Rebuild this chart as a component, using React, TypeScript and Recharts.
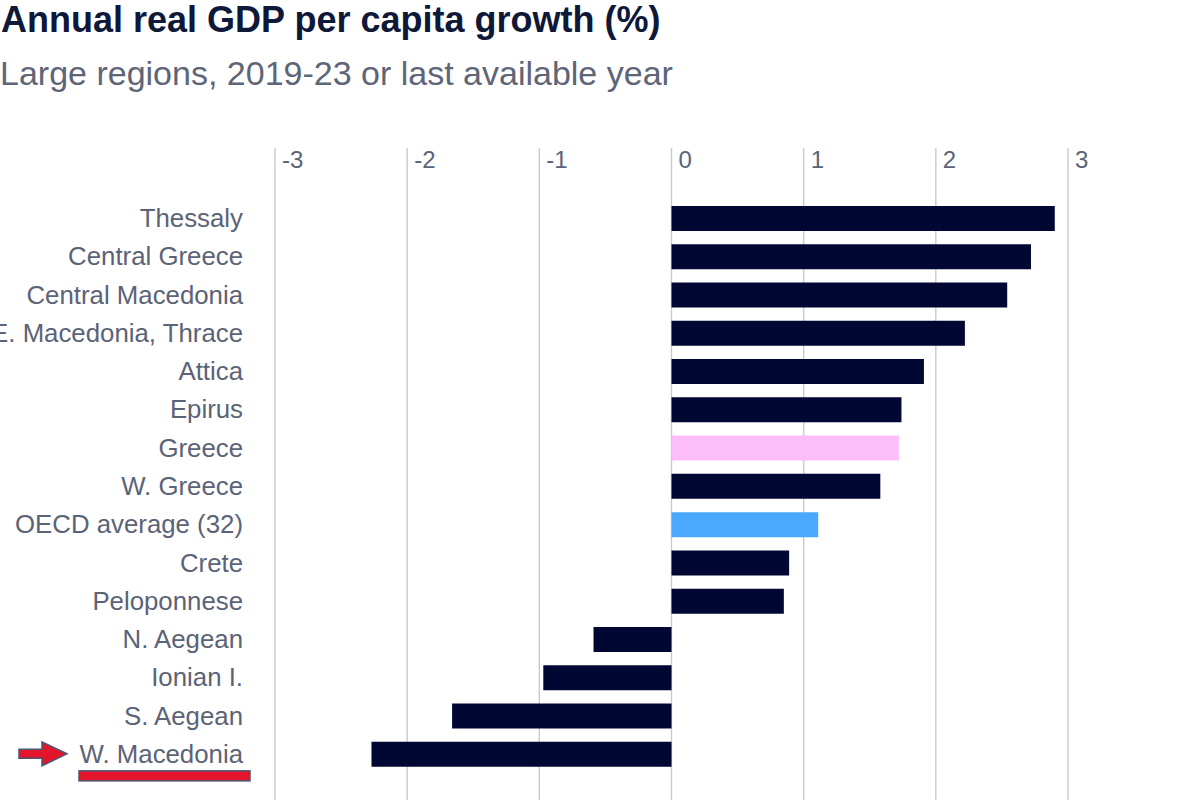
import { BarChart, Bar, XAxis, YAxis, CartesianGrid, Cell } from "recharts";

const regions = [
  "Thessaly",
  "Central Greece",
  "Central Macedonia",
  "E. Macedonia, Thrace",
  "Attica",
  "Epirus",
  "Greece",
  "W. Greece",
  "OECD average (32)",
  "Crete",
  "Peloponnese",
  "N. Aegean",
  "Ionian I.",
  "S. Aegean",
  "W. Macedonia",
];

const growth = [2.9, 2.72, 2.54, 2.22, 1.91, 1.74, 1.72, 1.58, 1.11, 0.89, 0.85, -0.59, -0.97, -1.66, -2.27];

const xTicks = [-3, -2, -1, 0, 1, 2, 3];

const data = regions.map((name, i) => ({ name, value: growth[i] }));

const barColor = (name: string) => {
  if (name === "Greece") return "#FDBDF9";
  if (name.startsWith("OECD")) return "#4BA8FF";
  return "#000733";
};

const PLOT_TOP = 148;
const PLOT_LEFT = 275;
const X_AXIS_H = 30;
const FONT = "'Liberation Sans', Arial, sans-serif";
const LABEL = "#5B6377";

const XTick = (props: any) => {
  const { x, payload } = props;
  return (
    <text x={x + 7} y={PLOT_TOP + 20} fill={LABEL} fontSize={24} fontFamily={FONT} textAnchor="start">
      {payload.value}
    </text>
  );
};

const YTick = (props: any) => {
  const { y, payload } = props;
  const right = PLOT_LEFT - 32;
  const highlight = payload.value === "W. Macedonia";
  return (
    <g>
      {highlight && (
        <g>
          <polygon
            points={`19,${y - 4.5} 42,${y - 4.5} 42,${y - 12} 67,${y} 42,${y + 12} 42,${y + 4.5} 19,${y + 4.5}`}
            fill="#E3152B"
            stroke="#4D5577"
            strokeWidth={1.5}
          />
          <rect x={79} y={y + 17} width={171} height={10} fill="#E3152B" stroke="#4D5577" strokeWidth={1.5} />
        </g>
      )}
      <text x={right} y={y} dy={9} fill={LABEL} fontSize={25.8} fontFamily={FONT} textAnchor="end">
        {payload.value}
      </text>
    </g>
  );
};

export default function App() {
  return (
    <div style={{ position: "absolute", left: 0, top: 0, width: 1200, height: 800, overflow: "hidden", background: "#fff" }}>
      <div
        style={{
          position: "absolute",
          left: 1,
          top: 2,
          fontFamily: FONT,
          fontWeight: "bold",
          fontSize: 36,
          lineHeight: "36px",
          color: "#0E1838",
          whiteSpace: "nowrap",
        }}
      >
        Annual real GDP per capita growth (%)
      </div>
      <div
        style={{
          position: "absolute",
          left: 0,
          top: 56,
          fontFamily: FONT,
          fontSize: 34,
          lineHeight: "34px",
          color: "#5E6577",
          whiteSpace: "nowrap",
        }}
      >
        Large regions, 2019-23 or last available year
      </div>
      <div style={{ position: "absolute", left: 0, top: 0 }}>
        <BarChart
          width={1200}
          height={800}
          data={data}
          layout="vertical"
          margin={{ top: PLOT_TOP - X_AXIS_H, right: 132, bottom: 0, left: 0 }}
          barSize={25}
        >
          <CartesianGrid horizontal={false} stroke="#C6CAD4" strokeWidth={1.4} />
          <XAxis
            type="number"
            orientation="top"
            domain={[-3, 3]}
            ticks={xTicks}
            height={X_AXIS_H}
            axisLine={false}
            tickLine={false}
            tick={XTick}
            interval={0}
          />
          <YAxis
            type="category"
            dataKey="name"
            width={PLOT_LEFT}
            axisLine={false}
            tickLine={false}
            interval={0}
            tick={YTick}
            padding={{ top: 51, bottom: 27 }}
          />
          <Bar dataKey="value" isAnimationActive={false}>
            {data.map((d) => (
              <Cell key={d.name} fill={barColor(d.name)} />
            ))}
          </Bar>
        </BarChart>
      </div>
    </div>
  );
}
